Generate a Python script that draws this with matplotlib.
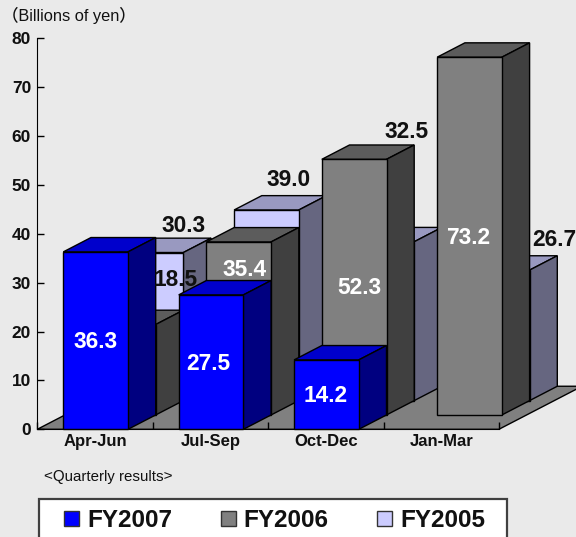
import matplotlib
matplotlib.use("Agg")
import matplotlib.pyplot as plt
from matplotlib.patches import Patch, Rectangle

plt.rcParams['font.family'] = ['Liberation Sans', 'Noto Sans CJK JP', 'DejaVu Sans']
plt.rcParams['text.hinting'] = 'default'
plt.rcParams['text.kerning_factor'] = 6

quarters = ["Apr-Jun", "Jul-Sep", "Oct-Dec", "Jan-Mar"]
fy2007 = [36.3, 27.5, 14.2]
fy2006 = [18.5, 35.4, 52.3, 73.2]
fy2005 = [30.3, 39.0, 32.5, 26.7]
y_ticks = [0, 10, 20, 30, 40, 50, 60, 70, 80]

W, H = 576, 537
X0, Y0 = 37.3, 429.3      # pixel position of the axes origin
CAT_PX, UNIT_PX = 115.4, 4.8875

BAR_W = 64.7 / CAT_PX
BAR_OFF = 26.0 / CAT_PX
DX = 27.7 / CAT_PX        # oblique depth of one series row
DY = 14.35 / UNIT_PX

fig = plt.figure(figsize=(W / 100, H / 100), dpi=100, facecolor="#EAEAEA")
ax = fig.add_axes([0, 0, 1, 1], facecolor="none")
ax.set_xlim(-X0 / CAT_PX, (W - X0) / CAT_PX)
ax.set_ylim((Y0 - H) / UNIT_PX, Y0 / UNIT_PX)


def row_z(row):
    return 1 + (2 - row) * 3


def draw_bars(values, row, front, top, side):
    # row 0 is the front of the floor, row 2 the back
    base = row * DY
    for i, v in enumerate(values):
        x = i + BAR_OFF + row * DX
        ax.bar(x, v, BAR_W, bottom=base, align="edge", color=front, edgecolor="black", lw=1.0, zorder=row_z(row) + 2)
        xr = x + BAR_W
        t = base + v
        ax.fill([x, x + DX, xr + DX, xr], [t, t + DY, t + DY, t], fc=top, ec="black", lw=1.0, zorder=row_z(row) + 1)
        ax.fill([xr, xr + DX, xr + DX, xr], [base, base + DY, t + DY, t], fc=side, ec="black", lw=1.0, zorder=row_z(row) + 1)


# floor
n = len(quarters)
ax.fill([0, n, n + 3 * DX, 3 * DX], [0, 0, 3 * DY, 3 * DY], fc="#808080", ec="black", lw=1.0, zorder=0.5)

draw_bars(fy2005, 2, "#CCCCFF", "#9999C0", "#666680")
draw_bars(fy2006, 1, "#808080", "#5C5C5C", "#404040")
draw_bars(fy2007, 0, "#0000FF", "#0000CC", "#000080")

# axes lines and ticks
for s in ["top", "right"]:
    ax.spines[s].set_visible(False)
ax.spines["left"].set_position(("data", 0))
ax.spines["bottom"].set_position(("data", 0))
ax.spines["left"].set_bounds(0, 80)
ax.spines["bottom"].set_bounds(0, n)
ax.spines["left"].set_zorder(20)
ax.spines["bottom"].set_zorder(20)
ax.set_yticks(y_ticks)
ax.set_yticklabels([str(v) for v in y_ticks], fontsize=12.5, fontweight="bold", color="#111111")
ax.tick_params(axis="y", direction="in", length=5, width=1, pad=4.5, zorder=20)
ax.set_xticks(range(n + 1))
ax.set_xticklabels([])
ax.tick_params(axis="x", which="major", direction="in", length=5, width=1, zorder=20)
for i, q in enumerate(quarters):
    ax.text(i + 0.5, -16.4 / UNIT_PX, q, fontsize=12, fontweight="bold", color="#111111", ha="center", va="baseline")

# overlay in pixel coordinates for the free text
top = fig.add_axes([0, 0, 1, 1], facecolor="none", zorder=5)
top.set_xlim(0, W)
top.set_ylim(H, 0)
top.axis("off")

labels = [
    (fy2007[0], 95.3, 339.5, "white"), (fy2007[1], 208.7, 361.7, "white"), (fy2007[2], 325.3, 394, "white"),
    (fy2006[0], 175.8, 277.5, "#111111"), (fy2006[1], 245, 267, "white"), (fy2006[2], 359.3, 286, "white"), (fy2006[3], 467.7, 235, "white"),
    (fy2005[0], 184, 223.5, "#111111"), (fy2005[1], 288.4, 178, "#111111"), (fy2005[2], 406.7, 129.5, "#111111"), (fy2005[3], 554.5, 237.7, "#111111"),
]
for v, x, y, c in labels:
    top.text(x, y, f"{v:.1f}", color=c, fontsize=16.3, fontweight="bold", ha="center", va="center_baseline")

top.text(2, 15, "（Billions of yen）", fontsize=11.8, color="#111111", ha="left", va="center")
top.text(44.3, 477, "<Quarterly results>", fontsize=10.9, color="#111111", ha="left", va="center")

# legend box runs off the bottom of the picture
top.add_patch(Rectangle((39.3, 499.3), 468, 60, fc="white", ec="#404040", lw=1.6))
handles = [Patch(fc="#0000FF", ec="#333333", lw=1), Patch(fc="#808080", ec="#333333", lw=1), Patch(fc="#CCCCFF", ec="#333333", lw=1)]
top.legend(handles, ["FY2007", "FY2006", "FY2005"], ncol=3, frameon=False, loc="upper left",
           bbox_to_anchor=(64, 510), bbox_transform=top.transData,
           prop={"size": 17.5, "weight": "bold"}, borderpad=0, borderaxespad=0,
           handlelength=0.62, handleheight=0.58, handletextpad=0.33, columnspacing=2.0, labelcolor="#111111")

fig.savefig("out.png", dpi=100, facecolor=fig.get_facecolor())
